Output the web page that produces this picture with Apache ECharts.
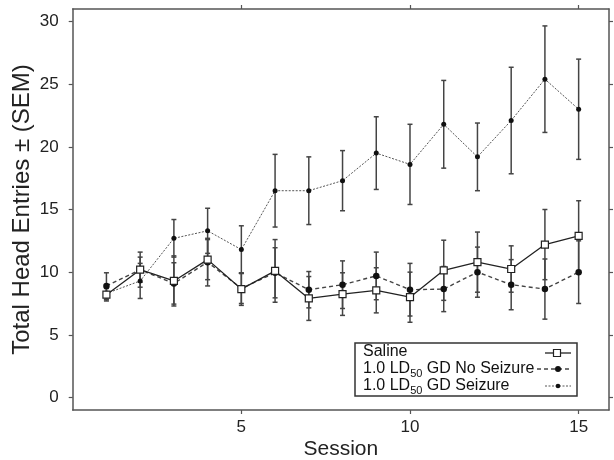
<!DOCTYPE html>
<html>
<head>
<meta charset="utf-8">
<script src="https://cdn.jsdelivr.net/npm/echarts@6/dist/echarts.min.js"></script>
<style>html,body{margin:0;padding:0;background:#fff;}#c{width:614px;height:460px;}</style>
</head>
<body>
<div id="c"></div>
<script>
var sessions = [1,2,3,4,5,6,7,8,9,10,11,12,13,14,15];
var salineMean = [8.2,10.2,9.3,11.0,8.65,10.1,7.9,8.25,8.55,8.0,10.15,10.8,10.25,12.2,12.9];
var salineSem  = [0.5,1.4,2.0,1.6,1.3,2.5,1.75,1.7,1.8,2.0,2.4,2.4,1.85,2.8,2.8];
var noSeizMean = [8.9,10.2,9.1,10.8,8.7,9.95,8.6,9.0,9.7,8.6,8.65,10.0,9.0,8.65,10.0];
var noSeizSem  = [1.05,1.0,1.65,1.9,1.2,2.0,1.45,1.9,1.9,2.1,1.8,2.0,2.0,2.4,2.5];
var seizMean   = [8.3,9.3,12.7,13.3,11.8,16.5,16.5,17.3,19.5,18.6,21.8,19.2,22.1,25.4,23.0];
var seizSem    = [0.5,1.4,1.5,1.8,1.9,2.9,2.7,2.4,2.9,3.2,3.5,2.7,4.25,4.25,4.0];
var xTicks = [5,10,15];
var yTicks = [0,5,10,15,20,25,30];
var names = ['Saline','1.0 LD50 GD No Seizure','1.0 LD50 GD Seizure'];
var legendLabels = ['Saline','1.0 LD{sub|50} GD No Seizure','1.0 LD{sub|50} GD Seizure'];

function pairs(m){ return sessions.map(function(s,i){return [s,m[i]];}); }
function errData(m,e){ return sessions.map(function(s,i){return [s,m[i],e[i]];}); }
function errSeries(m,e,color){
  return {
    type:'custom', xAxisIndex:0, yAxisIndex:0, z:2, silent:true,
    data: errData(m,e),
    encode:{x:0,y:1},
    renderItem:function(params,api){
      var x=api.value(0), mm=api.value(1), ss=api.value(2);
      var t=api.coord([x,mm+ss]), b=api.coord([x,mm-ss]);
      var w=2.5, st={stroke:color,lineWidth:1.5};
      return {type:'group',children:[
        {type:'line',shape:{x1:t[0],y1:t[1],x2:b[0],y2:b[1]},style:st},
        {type:'line',shape:{x1:t[0]-w,y1:t[1],x2:t[0]+w,y2:t[1]},style:st},
        {type:'line',shape:{x1:b[0]-w,y1:b[1],x2:b[0]+w,y2:b[1]},style:st}
      ]};
    }
  };
}
var font='Liberation Sans';
var axisCommon = function(pos, showLabel, vals){
  return {
    type:'value', position:pos, nameMoveOverlap:false,
    axisLine:{show:true,onZero:false,lineStyle:{color:'#555',width:1.5}},
    axisTick:{show:true,inside:false,length:4,customValues:vals,lineStyle:{color:'#555',width:1.2}},
    axisLabel:{show:showLabel,customValues:vals,color:'#222',fontSize:17,fontFamily:font,margin:14},
    splitLine:{show:false}
  };
};
var x0 = axisCommon('bottom',true,xTicks); x0.min=0; x0.max=15.9; x0.axisLabel.margin=9;
x0.name='Session'; x0.nameLocation='middle'; x0.nameGap=29; x0.nameTextStyle={fontSize:21,color:'#222',fontFamily:font};
var x1 = axisCommon('top',false,xTicks); x1.min=0; x1.max=15.9;
var y0 = axisCommon('left',true,yTicks); y0.min=-1; y0.max=31;
y0.name='Total Head Entries \u00b1 (SEM)'; y0.nameLocation='middle'; y0.nameGap=38; y0.nameTextStyle={fontSize:24,color:'#222',fontFamily:font};
var y1 = axisCommon('right',false,yTicks); y1.min=-1; y1.max=31;

// legend drawn as graphic (box, labels, sample symbols)
var lg = {left:355, top:343, w:222, h:53, rows:[352,369,386], textX:363};
var legendChildren = [
  {type:'rect',shape:{x:lg.left,y:lg.top,width:lg.w,height:lg.h},style:{fill:'#fff',stroke:'#333',lineWidth:1.5}}
];
lg.rows.forEach(function(ry,i){
  legendChildren.push({type:'text',x:lg.textX,y:ry,style:{
    text:legendLabels[i],fill:'#111',font:'16px "'+font+'"',verticalAlign:'middle',align:'left',
    rich:{sub:{fontSize:11,fontFamily:font,fill:'#111',padding:[9,0,0,0]}}
  }});
});
legendChildren.push({type:'line',shape:{x1:545,y1:353,x2:571,y2:353},style:{stroke:'#222',lineWidth:1.3}});
legendChildren.push({type:'rect',shape:{x:553.5,y:349.5,width:7,height:7},style:{fill:'#fff',stroke:'#222',lineWidth:1.2}});
legendChildren.push({type:'line',shape:{x1:537,y1:369,x2:571,y2:369},style:{stroke:'#444',lineWidth:1.4,lineDash:[4,3]}});
legendChildren.push({type:'circle',shape:{cx:558,cy:369,r:3},style:{fill:'#111'}});
legendChildren.push({type:'line',shape:{x1:545,y1:386,x2:571,y2:386},style:{stroke:'#555',lineWidth:1,lineDash:[2,1.5]}});
legendChildren.push({type:'circle',shape:{cx:558,cy:386,r:2.3},style:{fill:'#111'}});

var option = {
  animation:false,
  backgroundColor:'#fff',
  grid:{left:72.7,right:5,top:9,bottom:50,containLabel:false,outerBoundsMode:'none'},
  xAxis:[x0,x1],
  yAxis:[y0,y1],
  graphic:[{type:'group',z:100,children:legendChildren}],
  series:[
    errSeries(seizMean,seizSem,'#444'),
    errSeries(noSeizMean,noSeizSem,'#444'),
    errSeries(salineMean,salineSem,'#444'),
    {name:names[2],type:'line',data:pairs(seizMean),z:3,symbol:'circle',symbolSize:5,
      lineStyle:{color:'#555',width:1,type:[2,1.5]},itemStyle:{color:'#111'}},
    {name:names[1],type:'line',data:pairs(noSeizMean),z:4,symbol:'circle',symbolSize:6.5,
      lineStyle:{color:'#444',width:1.4,type:[4,3]},itemStyle:{color:'#111'}},
    {name:names[0],type:'line',data:pairs(salineMean),z:5,symbol:'rect',symbolSize:7,
      lineStyle:{color:'#222',width:1.3,type:'solid'},itemStyle:{color:'#fff',borderColor:'#222',borderWidth:1.2}}
  ]
};
var chart = echarts.init(document.getElementById('c'),null,{renderer:'canvas'});
chart.setOption(option);
</script>
</body>
</html>
